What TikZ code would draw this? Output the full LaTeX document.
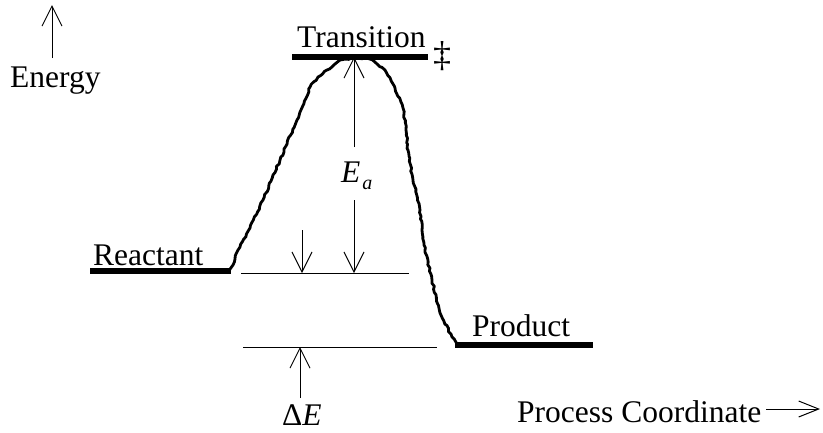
\documentclass[tikz,border=0pt]{standalone}
\usepackage{fontspec}
\setmainfont{Liberation Serif}
\usetikzlibrary{arrows.meta,decorations.pathmorphing}
\begin{document}
\begin{tikzpicture}[x=1pt,y=-1pt,
  lbl/.style={font=\fontsize{31.5}{36}\selectfont, inner sep=0pt, anchor=base west},
  levelbar/.style={line width=5.5pt},
  guide/.style={line width=1pt},
  varrow/.style={line width=1pt, -{Straight Barb[length=20pt,width=20pt]}},
  harrow/.style={line width=1pt, -{Straight Barb[length=20pt,width=16pt]}},
  curvy/.style={line width=2.8pt, line join=round, line cap=round, decorate,
    decoration={random steps,segment length=3pt,amplitude=0.8pt}}]
\pgfmathsetseed{7}
\useasboundingbox (0,0) rectangle (823,432);

% energy axis
\coordinate (en0) at (52,58);
\coordinate (en1) at (52,5);
\draw[varrow] (en0) -- (en1);
\node[lbl] (energy) at (10,87) {Energy};

% curve
\draw[curvy] (229,271) -- (233,265) -- (238,250) -- (250,228) -- (263,200) -- (280,160) -- (297,120) -- (310,87) -- (318,77) -- (327,70) -- (340,60) -- (355,58) -- (370,59) -- (385,70) -- (395,88) -- (403,108) -- (406,130) -- (408,150) -- (413,180) -- (420,210) -- (422,230) -- (425,250) -- (432,280) -- (440,313) -- (452,337) -- (457,344);

% levels
\coordinate (rL) at (90,271); \coordinate (rR) at (231,271);
\draw[levelbar] (rL) -- (rR);
\node[lbl] (react) at (93,265) {Reactant};

\coordinate (tL) at (292,57); \coordinate (tR) at (428,57);
\draw[levelbar] (tL) -- (tR);
\node[lbl] (trans) at (297,47) {Transition};
\node[font=\fontsize{36}{40}\selectfont, inner sep=0pt] (dd) at (442,56) {‡};

\coordinate (pL) at (455,345); \coordinate (pR) at (593,345);
\draw[levelbar] (pL) -- (pR);
\node[lbl] (prod) at (472,336) {Product};

% guide lines
\coordinate (g1L) at (241,273); \coordinate (g1R) at (409,273);
\draw[guide] (g1L) -- (g1R);
\coordinate (g2L) at (243,347); \coordinate (g2R) at (437,347);
\draw[guide] (g2L) -- (g2R);

% small arrow
\coordinate (s0) at (302,230); \coordinate (s1) at (302,273);
\draw[varrow] (s0) -- (s1);

% Ea arrows
\coordinate (ea0) at (354,147); \coordinate (ea1) at (354,57);
\draw[varrow] (ea0) -- (ea1);
\coordinate (eb0) at (354,200); \coordinate (eb1) at (354,273);
\draw[varrow] (eb0) -- (eb1);
\node[lbl] (ea) at (341,182) {\itshape E\hspace{2pt}\raisebox{-7pt}{\fontsize{20}{22}\selectfont a}};

% Delta E
\coordinate (d0) at (300,398); \coordinate (d1) at (300,347);
\draw[varrow] (d0) -- (d1);
\node[lbl] (de) at (282,425) {Δ\textit{E}};

% process coordinate
\node[lbl] (proc) at (517,422) {Process Coordinate};
\coordinate (p0) at (766,409); \coordinate (p1) at (820,409);
\draw[harrow] (p0) -- (p1);
\end{tikzpicture}
\end{document}
